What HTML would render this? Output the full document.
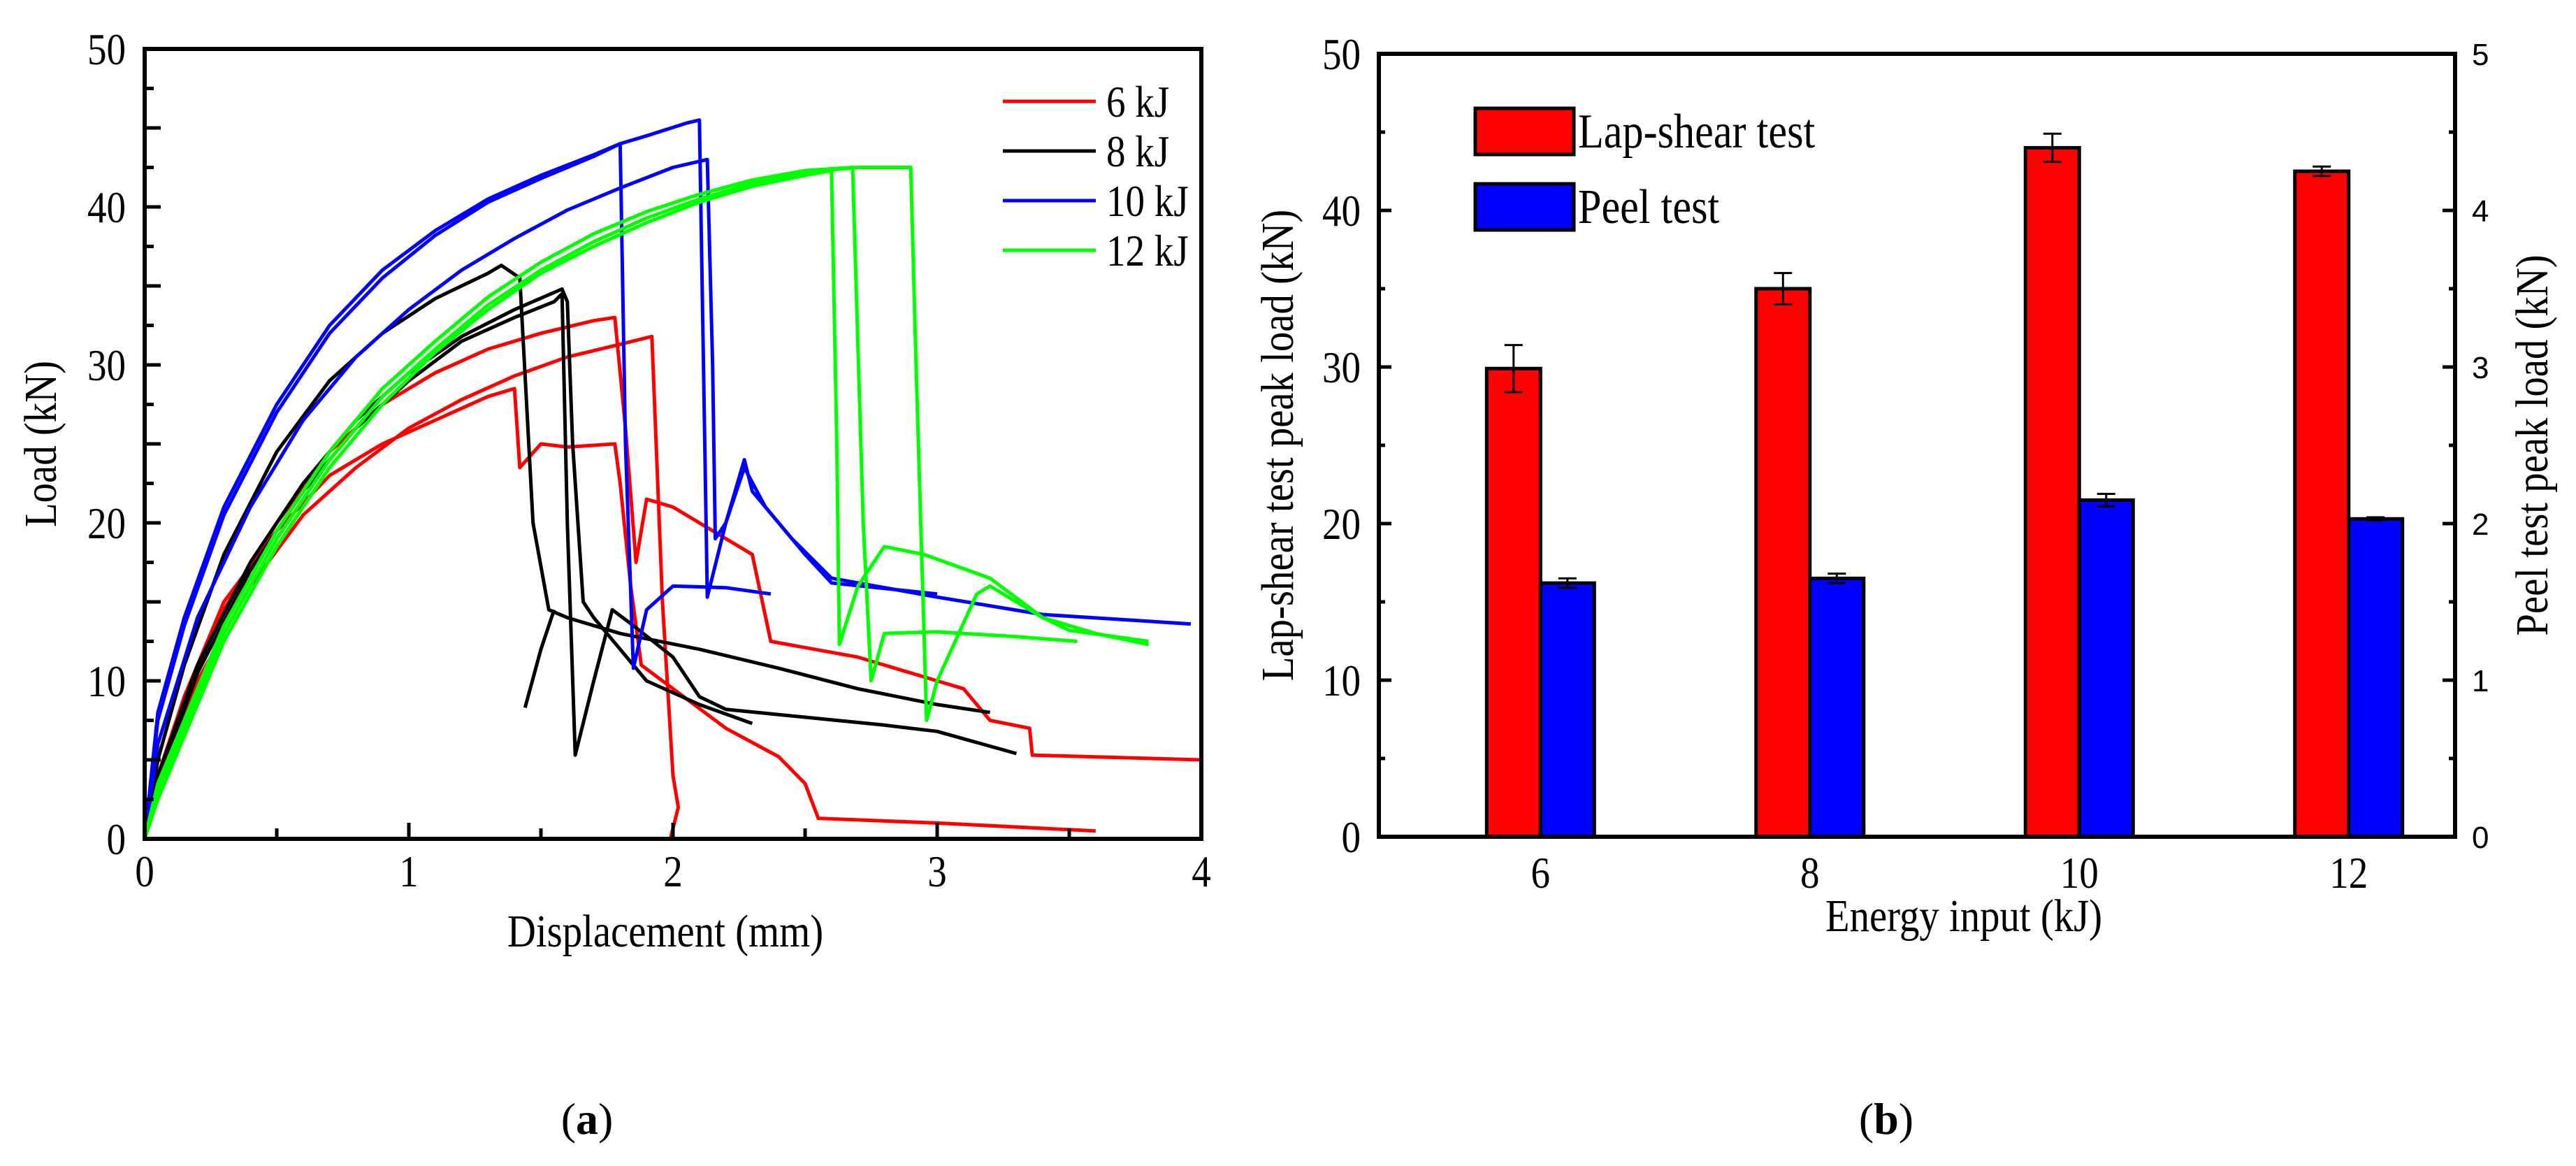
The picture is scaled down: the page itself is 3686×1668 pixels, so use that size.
<!DOCTYPE html>
<html><head><meta charset="utf-8">
<style>
html,body{margin:0;padding:0;background:#fff;}
svg{display:block;}
text{font-family:"Liberation Serif",serif;fill:#000;}
.sans{font-family:"Liberation Sans",sans-serif;}
</style></head>
<body>
<svg id="fig" width="3686" height="1668" viewBox="0 0 3686 1668" xmlns="http://www.w3.org/2000/svg">
<g id="chartA"></g>
<g id="chartB"></g>
<text x="840" y="1622" font-size="64" text-anchor="middle">(<tspan font-weight="bold">a</tspan>)</text>
<text x="2699" y="1622" font-size="64" text-anchor="middle">(<tspan font-weight="bold">b</tspan>)</text>
</svg>
<script>
// ---------- Chart A data ----------
const seriesLabels = ["6 kJ","8 kJ","10 kJ","12 kJ"];
const seriesColors = ["#ff0000","#000000","#0000ff","#00ff00"];
const red1 = [[0,0],[0.05,3],[0.15,9],[0.3,15],[0.5,19.5],[0.7,23],[0.9,25],[1.1,26.5],[1.3,28],[1.4,28.5],[1.42,23.5],[1.5,25],[1.6,24.8],[1.78,25],[1.8,22.5],[1.84,16],[1.88,11],[2.0,9.5],[2.2,7],[2.4,5.2],[2.5,3.5],[2.55,1.3],[3.0,1],[3.6,0.5]];
const red2 = [[0,0],[0.05,4],[0.15,9],[0.3,14.5],[0.5,20],[0.7,24.5],[0.9,27.5],[1.1,29.5],[1.3,31],[1.5,32],[1.7,32.8],[1.78,33],[1.82,26],[1.86,17.5],[1.9,21.5],[2.0,21],[2.15,19.5],[2.3,18],[2.37,12.5],[2.7,11.5],[3.0,10],[3.1,9.5],[3.2,7.5],[3.35,7],[3.36,5.3],[4.0,5]];
const red3 = [[0,0],[0.05,3],[0.2,10],[0.4,16],[0.6,20.5],[0.8,23.5],[1.0,26],[1.2,27.8],[1.4,29.3],[1.6,30.5],[1.8,31.3],[1.92,31.8],[1.96,15],[2.0,4],[2.02,2],[1.99,0]];
const blk1 = [[0,0],[0.05,5],[0.15,11],[0.3,18],[0.5,24.5],[0.7,29],[0.9,32],[1.1,34.2],[1.3,35.8],[1.35,36.3],[1.42,35.5],[1.47,20],[1.53,14.5],[1.6,14],[1.8,13],[2.1,12],[2.4,10.8],[2.7,9.5],[3.0,8.5],[3.2,8]];
const blk2 = [[0,0],[0.05,4],[0.2,11],[0.4,17.5],[0.6,22.5],[0.8,26.5],[1.0,29.5],[1.2,31.8],[1.4,33.5],[1.58,34.8],[1.6,34],[1.62,25],[1.66,15],[1.7,14],[1.8,12],[1.9,10],[2.1,8.5],[2.3,7.3]];
const blk3 = [[0,0],[0.05,3.5],[0.2,10.5],[0.4,17],[0.6,22],[0.8,26],[1.0,29],[1.2,31.5],[1.4,33],[1.55,34],[1.58,34.5],[1.6,20],[1.63,5.3],[1.7,10],[1.77,14.5],[1.85,13.5],[2.0,11.5],[2.1,9],[2.2,8.2],[2.5,7.7],[2.8,7.2],[3.0,6.8],[3.3,5.4]];
const blk4 = [[1.44,8.3],[1.5,12],[1.55,14.5]];
const blu1 = [[0,0],[0.05,8],[0.15,14],[0.3,21],[0.5,27.5],[0.7,32.5],[0.9,36],[1.1,38.5],[1.3,40.5],[1.5,42],[1.7,43.3],[1.8,44],[1.9,44.5],[2.05,45.3],[2.1,45.5],[2.13,15.3],[2.2,20],[2.27,23.5],[2.35,21],[2.5,18],[2.6,16.2],[3.0,15.5]];
const blu2 = [[0,0],[0.05,6],[0.2,14],[0.4,21],[0.6,26.5],[0.8,30.5],[1.0,33.5],[1.2,36],[1.4,38],[1.6,39.8],[1.8,41.2],[2.0,42.5],[2.13,43],[2.15,30],[2.16,19],[2.2,20],[2.27,24],[2.3,22],[2.45,19],[2.6,16.5],[3.0,15.3],[3.4,14.2],[3.96,13.6]];
const blu3 = [[0,0],[0.05,7.5],[0.15,13.5],[0.3,20.5],[0.5,27],[0.7,32],[0.9,35.5],[1.1,38.2],[1.3,40.3],[1.5,41.8],[1.7,43.2],[1.8,44],[1.82,25],[1.85,10.8],[1.9,14.5],[2.0,16],[2.2,15.9],[2.37,15.5]];
const grn1 = [[0,0],[0.05,3],[0.15,7],[0.3,13],[0.5,19],[0.7,24],[0.9,28],[1.1,31],[1.3,33.8],[1.5,36],[1.7,37.8],[1.9,39.3],[2.1,40.5],[2.3,41.5],[2.5,42.2],[2.7,42.5],[2.9,42.5],[2.92,30],[2.96,7.5],[3.0,10],[3.15,15.5],[3.2,16],[3.4,14],[3.5,13.2],[3.8,12.5]];
const grn2 = [[0,0],[0.05,3.5],[0.15,7.5],[0.3,13.5],[0.5,19.5],[0.7,24.5],[0.9,28.5],[1.1,31.5],[1.3,34.3],[1.5,36.5],[1.7,38.3],[1.9,39.7],[2.1,40.8],[2.3,41.7],[2.5,42.3],[2.68,42.5],[2.72,20],[2.75,10],[2.8,13],[3.0,13.1],[3.3,12.8],[3.53,12.5]];
const grn3 = [[0,0],[0.05,2.5],[0.15,6.5],[0.3,12.5],[0.5,18.5],[0.7,23.5],[0.9,27.5],[1.1,30.8],[1.3,33.5],[1.5,35.8],[1.7,37.5],[1.9,39],[2.1,40.3],[2.3,41.3],[2.5,42],[2.6,42.3],[2.62,25],[2.63,12.3],[2.7,16],[2.8,18.5],[2.95,18],[3.2,16.5],[3.4,14],[3.6,13],[3.8,12.3]];
const curveGroups = [[red1,red2,red3],[blk1,blk2,blk3,blk4],[blu1,blu2,blu3],[grn1,grn2,grn3]];
const xTicksA = [0,1,2,3,4];
const yTicksA = [0,10,20,30,40,50];

// ---------- Chart B data ----------
const energies = ["6","8","10","12"];
const energyValues = [6,8,10,12];
const lapShear = [29.9,35.0,44.0,42.5];
const lapShearErr = [1.5,1.0,0.9,0.3];
const peel = [1.62,1.65,2.15,2.03];
const peelErr = [0.03,0.03,0.04,0.01];
const yTicksB = [0,10,20,30,40,50];
const yTicksB2 = [0,1,2,3,4,5];

const NS="http://www.w3.org/2000/svg";
function mk(tag,attrs,parent){const e=document.createElementNS(NS,tag);for(const k in attrs)e.setAttribute(k,attrs[k]);parent.appendChild(e);return e;}
// condensed serif text (reference uses narrow Times)
function ctext(parent,x,y,size,anchor,str,rot){
  const tr=rot?`translate(${x},${y}) rotate(-90) scale(0.86,1)`:`translate(${x},${y}) scale(0.86,1)`;
  const t=mk('text',{x:0,y:0,'font-size':size,'text-anchor':anchor,transform:tr},parent);
  t.textContent=str;return t;
}

// ---------- Chart A ----------
(function(){
const g=document.getElementById('chartA');
const L=207,R=1719,T=70,B=1200;
const xs=v=>L+(v/4)*(R-L);
const ys=v=>B-(v/50)*(B-T);
curveGroups.forEach((grp,gi)=>{
  grp.forEach((c,ci)=>{
    const p=mk('polyline',{points:c.map(d=>xs(d[0]).toFixed(1)+','+ys(d[1]).toFixed(1)).join(' '),fill:'none',stroke:seriesColors[gi],'stroke-width':5,'stroke-linejoin':'round'},g);
    
    
  });
});
for(let v=0;v<=50;v+=2.5){
  const len=(v%5===0)?23:13;
  const t=mk('line',{x1:L,x2:L+len,y1:ys(v),y2:ys(v),stroke:'#000','stroke-width':5},g);
  
  
}
for(let v=0;v<=4;v+=0.5){
  const len=(v%1===0)?23:15;
  const t=mk('line',{x1:xs(v),x2:xs(v),y1:B,y2:B-len,stroke:'#000','stroke-width':5},g);
  
  
}
const fr=mk('rect',{x:L,y:T,width:R-L,height:B-T,fill:'none',stroke:'#000','stroke-width':6},g);


yTicksA.forEach(v=>{
  const t=ctext(g,180,ys(v)+22,64,'end',String(v));
  
  
});
xTicksA.forEach(v=>{
  const t=ctext(g,xs(v),1268,64,'middle',String(v));
  
  
});
const xt=ctext(g,952,1354,66,'middle','Displacement (mm)');


const yt=ctext(g,80,635,66,'middle','Load (kN)',true);


seriesLabels.forEach((s,i)=>{
  const y=145+i*71;
  const ln=mk('line',{x1:1435,x2:1568,y1:y,y2:y,stroke:seriesColors[i],'stroke-width':5},g);
  
  
  const t=ctext(g,1583,y+22,64,'start',s);
  
  
});
})();

// ---------- Chart B ----------
(function(){
const g=document.getElementById('chartB');
const L=1973,R=3513,T=77,B=1197;
const xmin=4.80,xmax=12.79;
const xs=v=>L+(v-xmin)/(xmax-xmin)*(R-L);
const ys=v=>B-(v/50)*(B-T);
const ys2=v=>B-(v/5)*(B-T);
const bw=77;
energyValues.forEach((e,i)=>{
  const cx=xs(e);
  const r=mk('rect',{x:cx-bw,y:ys(lapShear[i]),width:bw,height:B-ys(lapShear[i]),fill:'#ff0000',stroke:'#000','stroke-width':5},g);
  
  
  const b=mk('rect',{x:cx,y:ys2(peel[i]),width:bw,height:B-ys2(peel[i]),fill:'#0000ff',stroke:'#000','stroke-width':5},g);
  
  
  const ex1=cx-bw/2, y1=ys(lapShear[i]+lapShearErr[i]), y2=ys(lapShear[i]-lapShearErr[i]);
  const eb=mk('path',{d:`M${ex1},${y1}V${y2}M${ex1-13},${y1}H${ex1+13}M${ex1-13},${y2}H${ex1+13}`,stroke:'#000','stroke-width':3,fill:'none'},g);
  
  
  const ex2=cx+bw/2, z1=ys2(peel[i]+peelErr[i]), z2=ys2(peel[i]-peelErr[i]);
  const eb2=mk('path',{d:`M${ex2},${z1}V${z2}M${ex2-13},${z1}H${ex2+13}M${ex2-13},${z2}H${ex2+13}`,stroke:'#000','stroke-width':3,fill:'none'},g);
  
  
  const t=ctext(g,cx,1270,64,'middle',energies[i]);
  
  
});
for(let v=0;v<=50;v+=5){
  const len=(v%10===0)?18:9;
  const t=mk('line',{x1:L,x2:L+len,y1:ys(v),y2:ys(v),stroke:'#000','stroke-width':5},g);
  
  
  const t2=mk('line',{x1:R,x2:R-len,y1:ys(v),y2:ys(v),stroke:'#000','stroke-width':5},g);
  
  
}
const fr=mk('rect',{x:L,y:T,width:R-L,height:B-T,fill:'none',stroke:'#000','stroke-width':6},g);


yTicksB.forEach(v=>{
  const t=ctext(g,1947,ys(v)+22,64,'end',String(v));
  
  
});
yTicksB2.forEach(v=>{
  const t=mk('text',{x:3537,y:ys2(v)+16,'font-size':44,'class':'sans'},g);t.textContent=v;
  
  
});
const xt=ctext(g,2810,1332,66,'middle','Energy input (kJ)');


const yt=ctext(g,1850,637,66,'middle','Lap-shear test peak load (kN)',true);


const yt2=ctext(g,3645,637,66,'middle','Peel test peak load (kN)',true);


const lg=[["Lap-shear test","#ff0000",155],["Peel test","#0000ff",263]];
lg.forEach(([s,c,y])=>{
  const r=mk('rect',{x:2111,y:y,width:141,height:66,fill:c,stroke:'#000','stroke-width':5},g);
  
  
  const t=ctext(g,2258,y+56,70,'start',s);
  
  
});
})();
</script>
</body></html>
